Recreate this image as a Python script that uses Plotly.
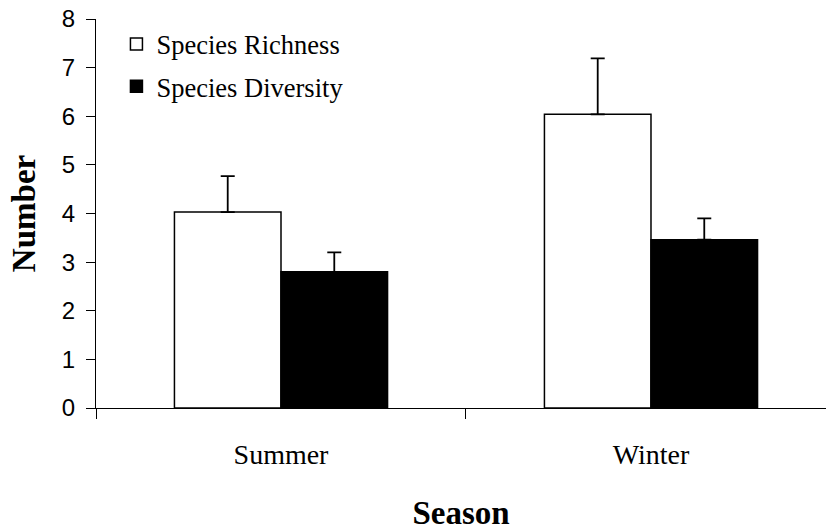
import plotly.graph_objects as go

# Seasonal comparison of species richness and diversity (mean + upper error)
seasons = ["Summer", "Winter"]
richness = [4.03, 6.04]
richness_err = [0.74, 1.15]
diversity = [2.80, 3.46]
diversity_err = [0.40, 0.44]

serif = "Liberation Serif, Times New Roman, serif"
sans = "Liberation Sans, Arial, sans-serif"

fig = go.Figure()
fig.add_trace(go.Bar(
    x=seasons, y=richness, name="Species Richness", legendgroup="a",
    marker=dict(color="white", line=dict(color="black", width=1.5)),
    error_y=dict(type="data", symmetric=False, array=richness_err,
                 arrayminus=[0] * len(richness_err),
                 color="black", thickness=1.8, width=7),
))
fig.add_trace(go.Bar(
    x=seasons, y=diversity, name="Species Diversity", legendgroup="b",
    marker=dict(color="black", line=dict(color="black", width=1.5)),
    error_y=dict(type="data", symmetric=False, array=diversity_err,
                 arrayminus=[0] * len(diversity_err),
                 color="black", thickness=1.8, width=7),
))

fig.update_layout(
    width=826, height=531,
    margin=dict(l=96, r=0, t=19, b=123),
    paper_bgcolor="white", plot_bgcolor="white",
    barmode="group", bargap=0.424, bargroupgap=0,
    showlegend=True,
    legend=dict(x=0.028, y=0.997, xanchor="left", yanchor="top",
                font=dict(family=serif, size=26.5, color="black"),
                bgcolor="rgba(0,0,0,0)", tracegroupgap=5,
                itemwidth=30),
    xaxis=dict(
        type="category", range=[-0.5, 1.473], automargin=False,
        tickson="boundaries", ticks="outside", ticklen=10,
        tickcolor="black", tickwidth=1,
        showline=True, linecolor="black", linewidth=1,
        showgrid=False, zeroline=False,
        tickfont=dict(family=serif, size=28, color="black"),
        ticklabelstandoff=21,
        title=dict(text="<b>Season</b>", standoff=44,
                   font=dict(family=serif, size=33, color="black")),
    ),
    yaxis=dict(
        range=[0, 8], dtick=1, tick0=0, automargin=False,
        ticks="outside", ticklen=9, tickcolor="black", tickwidth=1,
        showline=True, linecolor="black", linewidth=1,
        showgrid=False, zeroline=False,
        tickfont=dict(family=sans, size=24, color="black"),
        ticklabelstandoff=6,
        title=dict(text="<b>Number</b>", standoff=16,
                   font=dict(family=serif, size=33, color="black")),
    ),
)

fig.write_html("out.html")
